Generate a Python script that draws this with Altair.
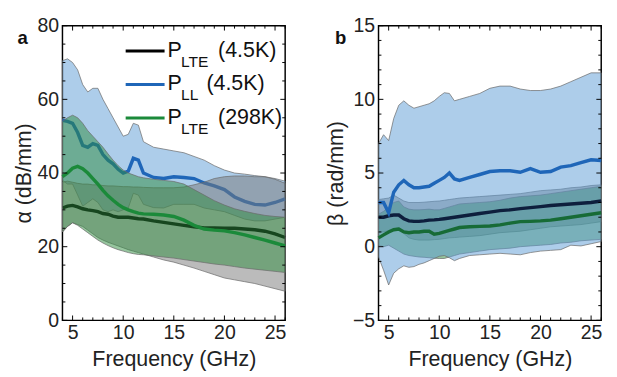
import altair as alt
import pandas as pd

# ---------------- data ----------------
FREQ = [4, 4.5, 5, 5.5, 6, 6.5, 7, 7.5, 8, 8.5, 9, 9.5, 10, 10.5, 11, 11.5, 12,
        13, 14, 15, 16, 17, 18, 19, 20, 21, 22, 23, 24, 25, 26]

# panel a: alpha (dB/mm)
A_LL_MEAN = [54.3, 54.0, 53.5, 51.0, 47.5, 47.0, 48.0, 47.5, 45.0, 43.5, 42.5, 41.0, 40.0, 40.5, 44.0, 43.5, 40.0,
             38.8, 38.5, 39.0, 38.8, 38.5, 37.3, 36.5, 35.5, 33.5, 32.3, 31.5, 31.3, 32.0, 33.0]
A_LL_HI = [70.5, 71.0, 70.0, 68.0, 64.0, 62.0, 63.0, 63.0, 60.0, 57.5, 55.0, 52.5, 50.0, 50.5, 53.5, 53.0, 48.5,
           47.0, 46.5, 46.0, 45.5, 44.5, 43.5, 42.0, 40.8, 40.0, 39.7, 39.3, 39.0, 38.5, 37.8]
A_LL_LO = [38.0, 37.0, 37.0, 34.0, 31.0, 32.0, 33.0, 32.0, 30.0, 29.5, 30.0, 29.5, 30.0, 30.5, 34.5, 34.0, 31.5,
           30.6, 30.5, 31.5, 31.5, 31.5, 30.5, 30.0, 29.5, 28.5, 27.5, 27.0, 27.0, 27.5, 28.0]

A_LTE4_MEAN = [30.5, 31.0, 31.2, 30.8, 30.3, 30.0, 29.8, 29.5, 29.0, 28.8, 28.3, 28.0, 28.0, 28.0, 27.8, 27.6, 27.5,
               27.0, 26.6, 26.2, 25.8, 25.4, 25.1, 25.1, 25.0, 25.0, 24.8, 24.6, 24.2, 23.5, 22.5]
A_LTE4_HI = [37.5, 37.8, 37.5, 37.2, 37.0, 37.0, 36.8, 36.8, 36.6, 36.5, 36.5, 36.4, 36.3, 36.3, 36.2, 36.2, 36.1,
             36.0, 36.0, 36.0, 36.2, 36.8, 37.5, 38.5, 39.0, 39.2, 39.2, 39.0, 39.0, 38.3, 37.2]
A_LTE4_LO = [24.0, 25.5, 26.5, 26.0, 25.5, 24.5, 23.5, 22.5, 21.8, 21.2, 20.7, 20.2, 19.7, 19.2, 18.8, 18.4, 18.0,
             17.2, 16.4, 15.8, 15.0, 14.2, 13.3, 12.4, 11.5, 11.0, 10.5, 10.0, 9.3, 8.6, 7.9]

A_LTE298_MEAN = [39.0, 40.0, 41.3, 41.8, 41.2, 40.0, 38.5, 37.0, 35.3, 33.8, 32.6, 31.5, 30.6, 30.0, 29.5, 29.1, 28.9,
                 28.8, 28.6, 28.2, 27.2, 25.8, 24.8, 24.5, 24.3, 23.8, 23.2, 22.5, 21.8, 21.0, 20.2]
A_LTE298_HI = [54.0, 55.0, 55.7, 55.0, 53.5, 51.5, 50.0, 48.5, 47.0, 45.2, 43.5, 42.0, 40.8, 40.0, 39.5, 39.0, 38.7,
               38.3, 38.0, 37.7, 37.0, 35.5, 34.0, 32.5, 31.3, 30.3, 29.6, 29.0, 28.5, 28.2, 28.0]
A_LTE298_LO = [24.0, 25.5, 26.5, 25.8, 24.8, 23.8, 22.8, 21.8, 21.0, 20.3, 19.7, 19.2, 18.8, 18.4, 18.1, 17.9, 17.8,
               17.5, 17.2, 16.9, 16.5, 16.1, 15.7, 15.3, 15.0, 14.6, 14.2, 13.9, 13.6, 13.3, 13.0]

# panel b: beta (rad/mm)
B_LL_MEAN = [3.0, 3.0, 2.3, 3.7, 4.2, 4.5, 4.2, 4.0, 4.0, 4.05, 4.1, 4.3, 4.5, 4.7, 5.0, 4.6, 4.5,
             4.7, 4.9, 5.1, 5.15, 5.15, 5.05, 5.3, 5.05, 5.1, 5.4, 5.5, 5.7, 5.9, 5.85]
B_LL_HI = [7.0, 7.6, 7.2, 8.7, 9.6, 9.9, 9.6, 9.4, 9.5, 9.6, 9.7, 9.9, 10.2, 10.45, 10.4, 9.9, 10.0,
           10.2, 10.4, 10.75, 10.9, 10.9, 10.7, 10.6, 10.6, 10.7, 10.9, 11.2, 11.5, 11.8, 11.8]
B_LL_LO = [-0.7, -1.6, -2.6, -1.8, -1.5, -1.3, -1.4, -1.35, -1.2, -1.1, -0.95, -0.8, -0.65, -0.6, -0.75, -0.95, -0.8,
           -0.6, -0.55, -0.5, -0.45, -0.5, -0.55, -0.4, -0.3, -0.25, -0.2, 0.1, 0.05, 0.2, 0.35]

B_LTE4_MEAN = [2.0, 2.0, 2.1, 2.15, 2.15, 1.9, 1.75, 1.72, 1.72, 1.75, 1.8, 1.82, 1.85, 1.9, 1.95, 2.0, 2.05,
               2.15, 2.25, 2.35, 2.45, 2.5, 2.58, 2.65, 2.72, 2.8, 2.85, 2.9, 2.95, 3.0, 3.1]
B_LTE4_HI = [3.2, 3.25, 3.3, 3.5, 3.3, 3.1, 3.0, 3.0, 3.0, 3.02, 3.05, 3.08, 3.1, 3.15, 3.2, 3.25, 3.3,
             3.35, 3.4, 3.45, 3.5, 3.55, 3.6, 3.7, 3.8, 3.85, 3.9, 4.0, 4.05, 4.15, 4.2]
B_LTE4_LO = [1.0, 1.0, 1.1, 1.2, 1.3, 0.9, 0.6, 0.5, 0.45, 0.45, 0.45, 0.48, 0.5, 0.55, 0.6, 0.62, 0.65,
             0.7, 0.75, 0.85, 0.95, 1.0, 1.05, 1.15, 1.25, 1.35, 1.4, 1.45, 1.5, 1.6, 1.7]

B_LTE298_MEAN = [0.6, 0.8, 1.0, 1.15, 1.2, 1.0, 0.95, 1.0, 1.0, 1.05, 1.05, 0.85, 0.9, 1.0, 1.1, 1.2, 1.3,
                 1.35, 1.38, 1.4, 1.48, 1.6, 1.7, 1.72, 1.75, 1.8, 1.9, 2.0, 2.1, 2.2, 2.3]
B_LTE298_HI = [2.2, 2.4, 2.7, 3.0, 3.1, 2.7, 2.55, 2.5, 2.5, 2.52, 2.55, 2.5, 2.5, 2.6, 2.7, 2.8, 2.9,
               2.95, 3.0, 3.05, 3.15, 3.3, 3.4, 3.45, 3.5, 3.6, 3.7, 3.8, 3.9, 4.0, 4.1]
B_LTE298_LO = [0.1, 0.0, 0.1, -0.1, -0.3, -0.5, -0.6, -0.65, -0.7, -0.72, -0.75, -0.78, -0.8, -0.8, -0.7, -0.6, -0.5,
               -0.4, -0.3, -0.2, -0.15, -0.1, 0.0, 0.05, 0.1, 0.15, 0.25, 0.3, 0.4, 0.45, 0.5]

X_LABELS = [5, 10, 15, 20, 25]
X_MINOR = list(range(4, 27))
A_Y_LABELS = [0, 20, 40, 60, 80]
A_Y_MINOR = list(range(0, 81, 5))
B_Y_LABELS = [-5, 0, 5, 10, 15]
B_Y_MINOR = list(range(-5, 16, 1))

LEGEND = [("LTE", "(4.5K)"), ("LL", "(4.5K)"), ("LTE", "(298K)")]

# ---------------- styling ----------------
FONT = "Liberation Sans"
C_BLACK, C_BLUE, C_GREEN = "#000000", "#1f66b8", "#1b8a3a"
F_GREY, F_BLUE, F_GREEN = "#777777", "#5b9bd5", "#2e8b3e"
H = 303
PW = 229


def frame(mean, lo, hi):
    return pd.DataFrame({"f": FREQ, "mean": mean, "lo": lo, "hi": hi})


def panel(bands, lines, ydom, ylabels, yminor, ytitle, ytitle_pad, letter, letter_x, width, legend):
    sx = alt.Scale(domain=[4, 26], nice=False, zero=False)
    sy = alt.Scale(domain=ydom, nice=False, zero=False)
    ax = alt.Axis(values=X_LABELS, title="Frequency (GHz)", ticks=False, domain=False,
                  labelPadding=3, titlePadding=6, format="d", grid=False)
    ay = alt.Axis(values=ylabels, title=ytitle, ticks=False, domain=False,
                  labelPadding=4, titlePadding=ytitle_pad, format="d", grid=False)
    X = lambda fld: alt.X(fld, scale=sx, axis=ax)
    Y = lambda fld: alt.Y(fld, scale=sy, axis=ay)

    layers = []
    # drawing order: list of ("band", df, colour) / ("line", df, colour)
    for kind, df, col in bands + lines:
        if kind == "band":
            layers.append(alt.Chart(df).mark_area(color=col, fillOpacity=0.5, stroke="#6a6a6a",
                                                  strokeWidth=0.8, strokeOpacity=0.9)
                          .encode(x=X("f:Q"), y=Y("lo:Q"), y2="hi:Q"))
        else:
            layers.append(alt.Chart(df).mark_line(color=col, strokeWidth=3.5)
                          .encode(x=X("f:Q"), y=Y("mean:Q")))

    xt = pd.DataFrame({"t": X_MINOR})
    xt["major"] = xt["t"].isin(X_LABELS)
    yt = pd.DataFrame({"t": yminor})
    yt["major"] = yt["t"].isin(ylabels)
    for major, ln in ((False, 3), (True, 5)):
        xd = xt[xt["major"] == major]
        yd = yt[yt["major"] == major]
        layers.append(alt.Chart(xd).mark_rule(color="black", strokeWidth=1)
                      .encode(x=X("t:Q"), y=alt.value(H), y2=alt.value(H - ln)))
        layers.append(alt.Chart(xd).mark_rule(color="black", strokeWidth=1)
                      .encode(x=X("t:Q"), y=alt.value(0), y2=alt.value(ln)))
        layers.append(alt.Chart(yd).mark_rule(color="black", strokeWidth=1)
                      .encode(y=Y("t:Q"), x=alt.value(0), x2=alt.value(ln)))
        layers.append(alt.Chart(yd).mark_rule(color="black", strokeWidth=1)
                      .encode(y=Y("t:Q"), x=alt.value(width), x2=alt.value(width - ln)))

    one = alt.Data(values=[{}])
    layers.append(alt.Chart(one).mark_text(text=letter, font=FONT, fontSize=19, fontWeight="bold",
                                           align="center", baseline="middle", color="#111")
                  .encode(x=alt.value(letter_x), y=alt.value(13)))

    if legend:
        cols = [C_BLACK, C_BLUE, C_GREEN]
        for i, (sub, suf) in enumerate(LEGEND):
            yb = 32 + 34.5 * i
            layers.append(alt.Chart(one).mark_rule(color=cols[i], strokeWidth=3)
                          .encode(x=alt.value(65), x2=alt.value(105), y=alt.value(yb - 6)))
            layers.append(alt.Chart(one).mark_text(text="P", font=FONT, fontSize=22, align="left",
                                                   baseline="alphabetic", color="#111")
                          .encode(x=alt.value(108), y=alt.value(yb)))
            layers.append(alt.Chart(one).mark_text(text=sub, font=FONT, fontSize=16, align="left",
                                                   baseline="alphabetic", color="#111")
                          .encode(x=alt.value(122), y=alt.value(yb + 10)))
            layers.append(alt.Chart(one).mark_text(text=suf, font=FONT, fontSize=22, align="left",
                                                   baseline="alphabetic", color="#111")
                          .encode(x=alt.value(160 if sub == "LTE" else 148), y=alt.value(yb)))

    return alt.layer(*layers).properties(width=width, height=H)


a_ll = frame(A_LL_MEAN, A_LL_LO, A_LL_HI)
a_l4 = frame(A_LTE4_MEAN, A_LTE4_LO, A_LTE4_HI)
a_l298 = frame(A_LTE298_MEAN, A_LTE298_LO, A_LTE298_HI)
b_ll = frame(B_LL_MEAN, B_LL_LO, B_LL_HI)
b_l4 = frame(B_LTE4_MEAN, B_LTE4_LO, B_LTE4_HI)
b_l298 = frame(B_LTE298_MEAN, B_LTE298_LO, B_LTE298_HI)

panel_a = panel(
    [("band", a_ll, F_BLUE), ("line", a_ll, C_BLUE), ("band", a_l4, F_GREY), ("line", a_l4, C_BLACK),
     ("band", a_l298, F_GREEN)],
    [("line", a_l298, C_GREEN)],
    [0, 80], A_Y_LABELS, A_Y_MINOR, "α (dB/mm)", 2, "a", -41, PW, True)

panel_b = panel(
    [("band", b_l4, F_GREY), ("band", b_l298, F_GREEN), ("band", b_ll, F_BLUE)],
    [("line", b_l4, "#0e1f3d"), ("line", b_l298, "#176b36"), ("line", b_ll, C_BLUE)],
    [-5, 15], B_Y_LABELS, B_Y_MINOR, "β (rad/mm)", 5, "b", -39, PW, False)

chart = (
    alt.hconcat(panel_a, panel_b, spacing=32)
    .properties(padding={"left": 4, "top": 2, "right": 0, "bottom": 0})
    .configure_axis(labelFont=FONT, titleFont=FONT, labelFontSize=20, titleFontSize=22,
                    titleFontWeight="normal", labelColor="#222", titleColor="#222")
    .configure_view(stroke="black", strokeWidth=1.5)
)

chart.save("out.html", embed_options={"renderer": "svg", "actions": False})
